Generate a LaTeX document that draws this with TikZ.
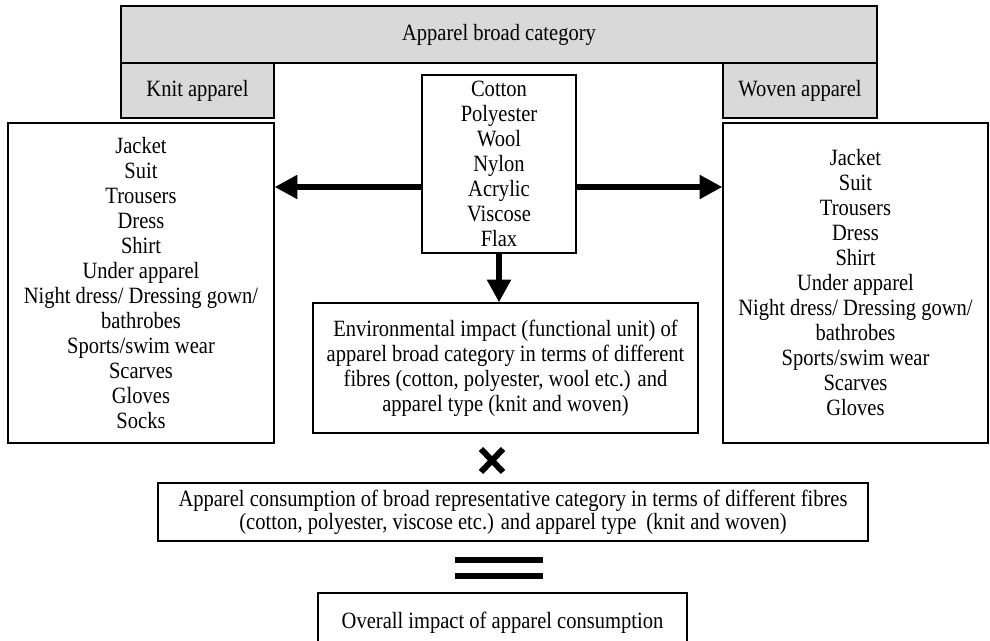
\documentclass[tikz,border=0pt]{standalone}
\usepackage{fontspec}
\setmainfont{Liberation Serif}[FakeStretch=0.88]
\usetikzlibrary{arrows.meta}
\begin{document}
\begin{tikzpicture}[x=0.75pt,y=-0.75pt,
  box/.style={draw=black,line width=0.9pt,fill=white,inner sep=0pt,align=center,
    font=\fontsize{17.5pt}{18.75pt}\selectfont},
  graybox/.style={box,fill=graybg},
  bigarrow/.style={line width=4.5pt,-{Triangle[length=17pt,width=17pt]}},
  heavybar/.style={line width=4.5pt}]
\definecolor{graybg}{HTML}{D9D9D9}
\useasboundingbox (0,0) rectangle (990,641);
% top headers
\node[graybox,minimum width=567pt,minimum height=42.75pt] (top) at (499,34.5) {Apparel broad category};
\node[graybox,minimum width=114.75pt,minimum height=41.25pt] (knit) at (197.5,90.5) {Knit apparel};
\node[graybox,minimum width=115.5pt,minimum height=41.25pt] (woven) at (800,90.5) {Woven apparel};
% lists
\node[box,minimum width=199.5pt,minimum height=240pt] (left) at (141,283)
  {Jacket\\Suit\\Trousers\\Dress\\Shirt\\Under apparel\\Night dress/ Dressing gown/\\bathrobes\\Sports/swim wear\\Scarves\\Gloves\\Socks};
\node[box,minimum width=198.75pt,minimum height=240pt] (right) at (855.5,283)
  {Jacket\\Suit\\Trousers\\Dress\\Shirt\\Under apparel\\Night dress/ Dressing gown/\\bathrobes\\Sports/swim wear\\Scarves\\Gloves};
% fibres
\node[box,minimum width=115.5pt,minimum height=133.5pt] (fibre) at (499,164)
  {Cotton\\Polyester\\Wool\\Nylon\\Acrylic\\Viscose\\Flax};
% environmental impact
\node[box,minimum width=288.75pt,minimum height=97.5pt] (env) at (505.5,368)
  {Environmental impact (functional unit) of\\apparel broad category in terms of different\\fibres (cotton, polyester, wool etc.) and\\apparel type (knit and woven)};
% consumption
\node[box,minimum width=532.5pt,minimum height=43.5pt,font=\fontsize{17.5pt}{17pt}\selectfont] (cons) at (513,512)
  {Apparel consumption of broad representative category in terms of different fibres\\(cotton, polyester, viscose etc.) and apparel type\hspace{0.2em} (knit and woven)};
% overall
\node[box,minimum width=276.75pt,minimum height=38.25pt,text height=19pt,text depth=4pt] (overall) at (502.5,618.5)
  {Overall impact of apparel consumption};
% arrows
\coordinate (ay) at (0,187);
\draw[bigarrow] (fibre.west |- ay) -- (left.east |- ay);
\draw[bigarrow] (fibre.east |- ay) -- (right.west |- ay);
\draw[bigarrow] (fibre.south) -- (fibre.south |- env.north);
% multiplication sign
\draw[line width=4.5pt] (481,449) -- (503,472) (481,472) -- (503,449);
% equals sign
\draw[heavybar] (455,560) -- (543,560);
\draw[heavybar] (455,576) -- (543,576);
\end{tikzpicture}
\end{document}
